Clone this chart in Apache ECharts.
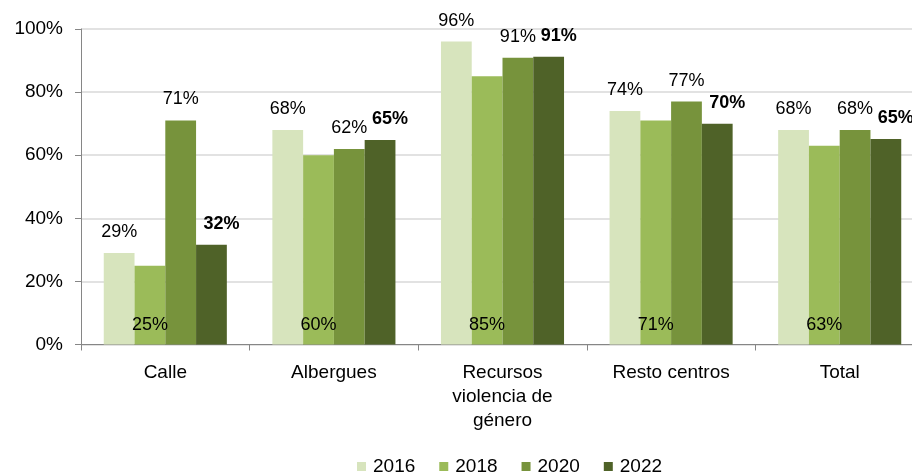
<!DOCTYPE html>
<html>
<head>
<meta charset="utf-8">
<script src="https://cdn.jsdelivr.net/npm/echarts@6/dist/echarts.min.js"></script>
<style>
  html, body { margin: 0; padding: 0; background: #fff; overflow: hidden; }
  /* el grafico original sale cortado por la derecha */
  #chart { width: 936px; height: 475px; }
</style>
</head>
<body>
<div id="chart"></div>
<script>
// categorias y valores (%)
var categories = ['Calle', 'Albergues', 'Recursos\nviolencia de\ngénero', 'Resto centros', 'Total'];
var years = ['2016', '2018', '2020', '2022'];
var v2016 = [29, 68, 96, 74, 68];
var v2018 = [25, 60, 85, 71, 63];
var v2020 = [71, 62, 90.9, 77, 68];
var v2022 = [31.6, 64.8, 91.2, 70, 65.1];
var yTicks = [0, 20, 40, 60, 80, 100];

var colors = ['#D7E4BD', '#9BBB59', '#77933C', '#4F6228'];
var font = "'Liberation Sans', Arial, sans-serif";

var chart = echarts.init(document.getElementById('chart'));

function pct(p) { return Math.round(p.value) + '%'; }

function barSeries(name, data, idx, label) {
  return {
    name: name,
    type: 'bar',
    data: data,
    barGap: '0%',
    barCategoryGap: '27%',
    itemStyle: { color: colors[idx] },
    label: label,
    emphasis: { disabled: true }
  };
}

chart.setOption({
  animation: false,
  textStyle: { fontFamily: font },
  grid: { left: 81, top: 29, right: 12, height: 315.5 },
  legend: {
    data: years,
    left: 352,
    top: 452,
    icon: 'rect',
    itemWidth: 9,
    itemHeight: 9,
    itemGap: 24,
    selectedMode: false,
    textStyle: { fontFamily: font, fontSize: 19, color: '#000', padding: [0, 0, 0, 2] }
  },
  xAxis: {
    type: 'category',
    data: categories,
    axisLine: { lineStyle: { color: '#868686', width: 1 } },
    axisTick: { show: true, length: 6, lineStyle: { color: '#868686' } },
    axisLabel: {
      interval: 0,
      margin: 16,
      fontFamily: font,
      fontSize: 19,
      lineHeight: 24,
      color: '#000'
    }
  },
  yAxis: {
    type: 'value',
    min: yTicks[0],
    max: yTicks[yTicks.length - 1],
    interval: 20,
    axisLine: { show: true, lineStyle: { color: '#868686', width: 1 } },
    axisTick: { show: true, length: 6, lineStyle: { color: '#868686' } },
    axisLabel: {
      formatter: '{value}%',
      margin: 18,
      fontFamily: font,
      fontSize: 19,
      color: '#000'
    },
    splitLine: { lineStyle: { color: '#d9d9d9', width: 1.5 } }
  },
  series: [
    barSeries(years[0], v2016, 0, {
      show: true, position: 'top', distance: 12, formatter: pct,
      fontFamily: font, fontSize: 18, color: '#000'
    }),
    barSeries(years[1], v2018, 1, {
      show: true, position: 'insideBottom', distance: 10, formatter: pct,
      fontFamily: font, fontSize: 18, color: '#000'
    }),
    barSeries(years[2], v2020, 2, {
      show: true, position: 'top', distance: 12, formatter: pct,
      fontFamily: font, fontSize: 18, color: '#000'
    }),
    barSeries(years[3], v2022, 3, {
      show: true, position: 'top', distance: 12, offset: [10, 0], formatter: pct,
      fontFamily: font, fontSize: 18, fontWeight: 'bold', color: '#000'
    })
  ]
});
</script>
</body>
</html>
